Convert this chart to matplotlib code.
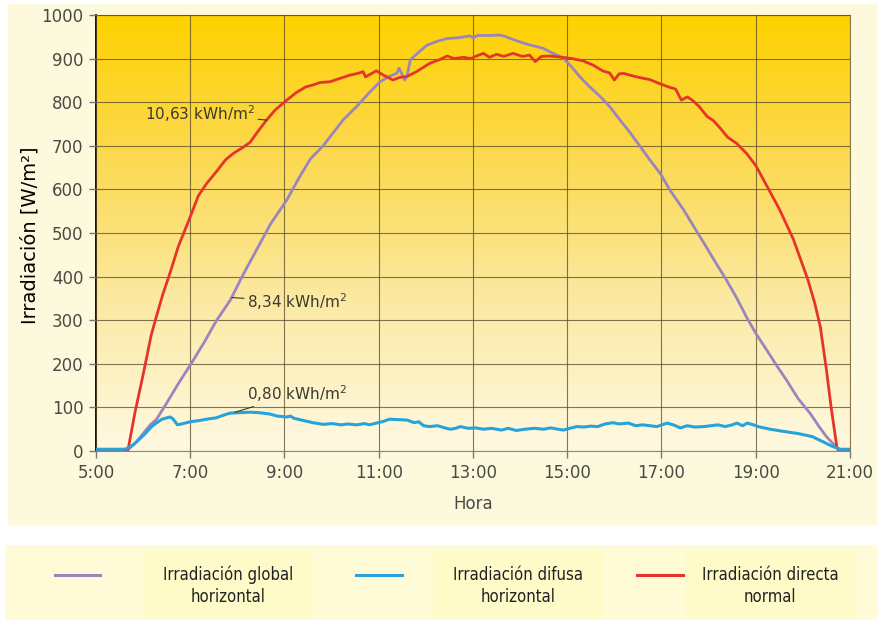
import numpy as np
import matplotlib
matplotlib.use("Agg")
import matplotlib.pyplot as plt
from matplotlib.colors import LinearSegmentedColormap
from matplotlib.patches import Rectangle
from matplotlib.lines import Line2D

# data (hour of day, W/m2)
direct_h = [5.00, 5.50, 5.68, 5.83, 6.00, 6.17, 6.28, 6.42, 6.57, 6.75, 7.00, 7.17, 7.35, 7.55, 7.75,
            7.92, 8.10, 8.27, 8.45, 8.62, 8.80, 9.05, 9.25, 9.45, 9.62, 9.75, 9.97, 10.10, 10.25, 10.38,
            10.55, 10.67, 10.72, 10.85, 10.95, 11.10, 11.30, 11.45, 11.60, 11.80, 12.08, 12.30, 12.45,
            12.60, 12.80, 12.95, 13.10, 13.22, 13.35, 13.50, 13.65, 13.85, 14.05, 14.20, 14.32, 14.45,
            14.62, 14.90, 15.10, 15.33, 15.55, 15.75, 15.90, 16.00, 16.10, 16.20, 16.40, 16.60, 16.75,
            16.95, 17.15, 17.30, 17.42, 17.55, 17.65, 17.80, 17.97, 18.10, 18.25, 18.40, 18.60, 18.80,
            19.00, 19.10, 19.30, 19.50, 19.65, 19.80, 19.95, 20.10, 20.25, 20.37, 20.50, 20.60, 20.72,
            20.75, 21.00]
direct_v = [0, 0, 3, 90, 175, 265, 308, 360, 408, 470, 537, 585, 614, 640, 668,
            683, 695, 708, 735, 759, 782, 805, 822, 835, 840, 845, 847, 852, 857, 862,
            866, 870, 858, 866, 872, 862, 851, 857, 859, 870, 889, 898, 906,
            900, 903, 900, 907, 912, 903, 910, 905, 912, 905, 908, 893, 905,
            906, 903, 900, 895, 885, 872, 867, 851, 865, 866, 860, 855, 852,
            843, 835, 830, 805, 812, 805, 790, 767, 758, 740, 720, 705, 683,
            655, 635, 595, 555, 520, 485, 440, 395, 340, 285, 186, 100, 10,
            2, 2]

global_h = [5.00, 5.60, 5.68, 5.85, 6.00, 6.15, 6.28, 6.50, 6.75, 7.03, 7.30, 7.55, 7.85, 8.10, 8.40,
            8.70, 9.05, 9.30, 9.55, 9.82, 9.97, 10.25, 10.53, 10.80, 11.03, 11.20, 11.38, 11.43, 11.55,
            11.60, 11.67, 11.85, 12.03, 12.25, 12.45, 12.70, 12.93, 13.00, 13.10, 13.35, 13.57, 13.70,
            13.92, 14.15, 14.48, 14.70, 14.92, 15.10, 15.27, 15.45, 15.70, 15.90, 16.12, 16.30, 16.55,
            16.75, 16.97, 17.20, 17.47, 17.70, 17.90, 18.15, 18.38, 18.60, 18.80, 19.00, 19.23, 19.45,
            19.65, 19.90, 20.15, 20.35, 20.50, 20.72, 20.80, 21.00]
global_v = [0, 0, 3, 20, 40, 60, 72, 110, 155, 202, 250, 298, 346, 400, 460,
            520, 576, 625, 670, 700, 721, 760, 790, 822, 847, 858, 866, 878, 851,
            860, 897, 915, 931, 940, 946, 948, 952, 948, 953, 953, 954, 950,
            941, 933, 924, 912, 901, 880, 858, 838, 813, 790, 759, 735, 698,
            668, 637, 595, 553, 512, 477, 432, 392, 350, 308, 270, 232, 195,
            163, 120, 87, 55, 33, 8, 3, 3]

diffuse_h = [5.00, 5.60, 5.67, 5.80, 6.00, 6.20, 6.40, 6.57, 6.63, 6.73, 6.85, 7.00, 7.20, 7.35, 7.55,
             7.70, 7.85, 8.05, 8.27, 8.45, 8.68, 8.85, 9.05, 9.13, 9.20, 9.40, 9.60, 9.82, 10.00, 10.20,
             10.35, 10.53, 10.70, 10.80, 10.95, 11.10, 11.23, 11.40, 11.60, 11.75, 11.85, 11.95, 12.08,
             12.25, 12.40, 12.52, 12.63, 12.73, 12.90, 13.05, 13.22, 13.40, 13.60, 13.75, 13.92, 14.10,
             14.30, 14.50, 14.65, 14.80, 14.92, 15.05, 15.20, 15.35, 15.50, 15.65, 15.80, 15.97, 16.10,
             16.30, 16.45, 16.60, 16.75, 16.90, 17.12, 17.25, 17.40, 17.55, 17.70, 17.90, 18.05, 18.20,
             18.35, 18.50, 18.60, 18.72, 18.82, 18.95, 19.05, 19.30, 19.65, 19.90, 20.20, 20.43, 20.60,
             20.78, 21.00]
diffuse_v = [4, 4, 6, 15, 35, 58, 73, 78, 74, 60, 63, 67, 70, 73, 76,
             82, 87, 88, 89, 88, 85, 80, 78, 80, 75, 70, 65, 61, 63, 60,
             62, 60, 63, 60, 64, 68, 73, 72, 71, 65, 67, 58, 56,
             58, 53, 50, 52, 56, 52, 53, 50, 52, 48, 52, 47, 50,
             52, 50, 53, 50, 48, 52, 56, 55, 57, 56, 62, 65, 62,
             64, 58, 60, 58, 56, 64, 60, 53, 58, 55, 56, 58, 60,
             56, 60, 64, 58, 64, 60, 56, 50, 44, 40, 33, 21, 12,
             4, 4]

x_ticks = [5, 7, 9, 11, 13, 15, 17, 19, 21]
x_labels = ["5:00", "7:00", "9:00", "11:00", "13:00", "15:00", "17:00", "19:00", "21:00"]
y_ticks = list(range(0, 1001, 100))
legend_labels = ["Irradiación global\nhorizontal", "Irradiación difusa\nhorizontal",
                 "Irradiación directa\nnormal"]

c_global = "#9a86bd"
c_diffuse = "#27a3dc"
c_direct = "#e5352a"
txt_grey = "#4a4a44"

fig = plt.figure(figsize=(8.78, 6.2), dpi=100)
fig.patch.set_facecolor("white")

# cream panels behind chart and legend
fig.patches.append(Rectangle((8 / 878, 1 - 525 / 620), 870 / 878, 521 / 620,
                             transform=fig.transFigure, facecolor="#fdf9dc", edgecolor="none", zorder=0))
fig.patches.append(Rectangle((5 / 878, 0), 873 / 878, 75 / 620,
                             transform=fig.transFigure, facecolor="#fefbd6", edgecolor="none", zorder=0))

ax = fig.add_axes([96 / 878, 169 / 620, 754 / 878, 436 / 620])
ax.set_zorder(2)
ax.set_facecolor("none")

# gold-to-cream gradient
cmap = LinearSegmentedColormap.from_list("sun", [(0, "#fff9e2"), (0.35, "#fbe9a2"),
                                                 (0.7, "#fcd84a"), (1, "#ffd200")])
grad = np.linspace(0, 1, 256).reshape(-1, 1)
ax.imshow(grad, aspect="auto", cmap=cmap, origin="lower",
          extent=[5, 21, 0, 1000], zorder=0)

ax.plot(global_h, global_v, color=c_global, lw=2.0, zorder=3)
ax.plot(direct_h, direct_v, color=c_direct, lw=2.0, zorder=4)
ax.plot(diffuse_h, diffuse_v, color=c_diffuse, lw=2.2, zorder=5)

ax.set_xlim(5, 21)
ax.set_ylim(0, 1000)
ax.set_xticks(x_ticks)
ax.set_xticklabels(x_labels)
ax.set_yticks(y_ticks)
ax.grid(True, color="#5a4a28", lw=0.8, alpha=0.75, zorder=1)
ax.set_axisbelow(False)
ax.tick_params(colors="#777777", labelcolor=txt_grey, labelsize=12, length=5, width=1, pad=4)
for side in ["top", "right"]:
    ax.spines[side].set_color("#8a7a50")
    ax.spines[side].set_linewidth(0.8)
ax.spines["left"].set_color("#111111")
ax.spines["left"].set_linewidth(1.4)
ax.spines["bottom"].set_color("#888888")

ax.set_xlabel("Hora", fontsize=12, color=txt_grey, labelpad=10)
fig.text(30 / 878, 1 - 235 / 620, "Irradiación [W/m²]", rotation=90, fontsize=14,
         color="black", ha="center", va="center", zorder=3)

# energy annotations
ax.annotate("10,63 kWh/m$^2$", xy=(8.62, 759), xytext=(8.38, 773), fontsize=11,
            color="#3a3a30", ha="right", va="center", zorder=6,
            arrowprops=dict(arrowstyle="-", color="#3a3a30", lw=0.8, shrinkA=0, shrinkB=0))
ax.annotate("8,34 kWh/m$^2$", xy=(7.88, 352), xytext=(8.2, 342), fontsize=11,
            color="#3a3a30", ha="left", va="center", zorder=6,
            arrowprops=dict(arrowstyle="-", color="#3a3a30", lw=0.8, shrinkA=0, shrinkB=0))
ax.annotate("0,80 kWh/m$^2$", xy=(7.95, 89), xytext=(8.2, 132), fontsize=11,
            color="#3a3a30", ha="left", va="center", zorder=6,
            arrowprops=dict(arrowstyle="-", color="#3a3a30", lw=0.8, shrinkA=0, shrinkB=0))

# legend drawn by hand on the lower panel
leg_cols = [c_global, c_diffuse, c_direct]
line_x = [(55, 100), (356, 402), (637, 683)]
text_x = [228, 518, 770]
for col, (x0, x1), tx, lab in zip(leg_cols, line_x, text_x, legend_labels):
    fig.patches.append(Rectangle(((tx - 85) / 878, 1 - 617 / 620), 170 / 878, 66 / 620,
                                 transform=fig.transFigure, facecolor="#fffbc9",
                                 edgecolor="none", zorder=0.5))
    fig.add_artist(Line2D([x0 / 878, x1 / 878], [1 - 575 / 620] * 2, color=col, lw=2.2, zorder=3))
    fig.text(tx / 878, 1 - 586 / 620, lab, ha="center", va="center", fontsize=12,
             linespacing=1.25, color="#222222", fontstretch="condensed", zorder=3,
             family=["DejaVu Sans"])

plt.savefig("out.png", dpi=100)
plt.close()
